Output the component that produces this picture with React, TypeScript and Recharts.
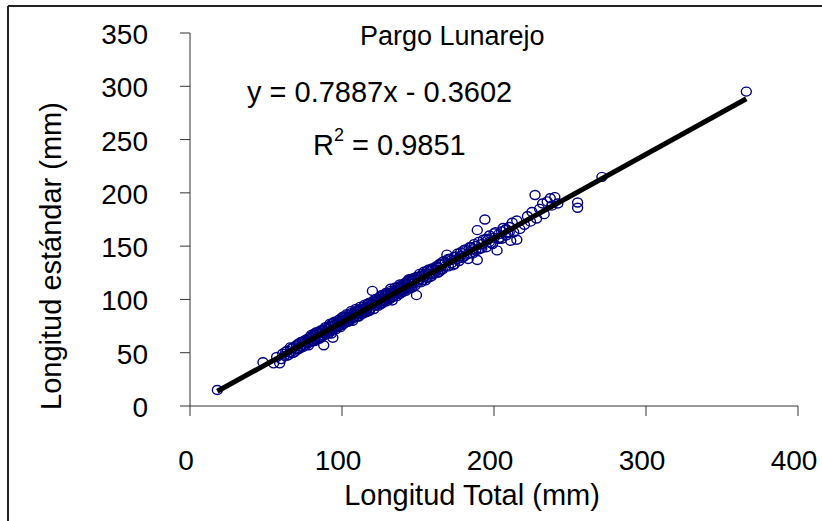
import { Scatter, ScatterChart, XAxis, YAxis } from 'recharts';

// Longitud total (mm), longitud estándar (mm).
const samples: [number, number][] = [
  [18, 15], [48, 41], [55, 40], [57, 46], [59, 40], [60, 44], [62, 47], [63, 51],
  [64, 52], [65, 48], [66, 50], [67, 54], [68, 55], [69, 51], [70, 53], [71, 58],
  [72, 59], [72, 54], [73, 56], [74, 60], [74, 55], [75, 57], [76, 62], [76, 57],
  [77, 59], [78, 63], [78, 59], [79, 60], [79, 65], [80, 64], [80, 61], [81, 66],
  [81, 61], [82, 63], [82, 68], [83, 67], [84, 64], [84, 69], [85, 68], [85, 65],
  [86, 69], [86, 64], [87, 66], [87, 71], [88, 57], [88, 71], [89, 68], [89, 73],
  [90, 72], [90, 69], [91, 73], [91, 68], [92, 70], [92, 75], [93, 75], [93, 70],
  [94, 64], [94, 72], [94, 78], [95, 76], [95, 73], [96, 77], [96, 72], [97, 74],
  [97, 79], [98, 79], [98, 75], [99, 78], [99, 74], [100, 80], [100, 76], [100, 83],
  [101, 81], [101, 77], [102, 78], [102, 84], [103, 83], [103, 79], [104, 82], [104, 79],
  [105, 85], [105, 80], [106, 84], [106, 87], [107, 82], [107, 80], [108, 87], [108, 83],
  [109, 86], [109, 89], [110, 88], [110, 84], [111, 89], [111, 84], [112, 86], [112, 91],
  [113, 90], [113, 86], [114, 87], [114, 93], [115, 92], [115, 88], [116, 90], [116, 88],
  [117, 93], [117, 96], [118, 90], [118, 89], [119, 95], [119, 97], [120, 108], [120, 96],
  [121, 94], [121, 91], [122, 98], [122, 100], [123, 95], [124, 99], [124, 94], [125, 96],
  [125, 102], [126, 101], [126, 96], [127, 98], [127, 104], [128, 103], [128, 99], [129, 101],
  [129, 98], [130, 104], [130, 106], [131, 100], [131, 101], [132, 106], [132, 110], [133, 102],
  [133, 99], [134, 107], [134, 103], [135, 104], [135, 111], [136, 109], [136, 103], [137, 106],
  [137, 112], [138, 111], [138, 105], [139, 108], [139, 113], [140, 112], [140, 107], [141, 109],
  [141, 115], [142, 114], [142, 108], [143, 111], [143, 117], [144, 116], [144, 110], [145, 112],
  [145, 119], [146, 118], [146, 111], [147, 115], [147, 120], [148, 119], [148, 113], [149, 104],
  [150, 121], [150, 116], [151, 124], [152, 122], [152, 116], [153, 118], [154, 126], [155, 124],
  [155, 118], [156, 120], [157, 128], [158, 127], [158, 121], [159, 122], [160, 129], [160, 124],
  [161, 125], [162, 131], [163, 130], [163, 125], [164, 126], [165, 133], [165, 128], [166, 128],
  [167, 136], [168, 135], [169, 142], [170, 131], [171, 138], [172, 137], [173, 132], [174, 133],
  [175, 140], [176, 143], [177, 136], [178, 144], [179, 139], [180, 140], [181, 147], [182, 146],
  [183, 138], [184, 143], [185, 149], [186, 143], [187, 152], [188, 150], [189, 137], [189, 165],
  [190, 147], [191, 148], [192, 152], [193, 156], [194, 175], [195, 149], [196, 156], [197, 160],
  [198, 153], [199, 152], [200, 158], [201, 163], [202, 146], [203, 161], [204, 158], [205, 157],
  [206, 167], [207, 165], [208, 160], [209, 162], [210, 168], [211, 155], [212, 172], [213, 163],
  [215, 156], [215, 174], [217, 166], [220, 170], [222, 178], [224, 173], [225, 182], [227, 198],
  [228, 176], [230, 185], [232, 190], [233, 180], [235, 192], [237, 195], [238, 188], [240, 196],
  [242, 190], [255, 191], [255, 186], [271, 215], [366, 295],
  // second pass through the dense band
  [61, 49], [64, 47], [66, 55], [68, 50], [70, 57], [71, 53], [73, 60], [75, 61],
  [77, 63], [78, 57], [80, 67], [82, 61], [83, 69], [85, 63], [86, 71], [88, 66],
  [89, 74], [91, 70], [92, 77], [93, 68], [95, 79], [96, 74], [98, 81], [99, 76],
  [101, 84], [102, 80], [103, 86], [105, 82], [106, 89], [107, 85], [109, 91], [110, 86],
  [112, 93], [113, 88], [115, 95], [116, 92], [118, 97], [119, 92], [121, 99], [122, 94],
  [123, 101], [125, 98], [126, 104], [128, 101], [129, 106], [131, 103], [132, 108], [134, 105],
  [135, 109], [137, 108], [138, 114], [140, 110], [141, 112], [143, 114], [144, 119], [146, 116],
  [147, 118], [149, 121], [151, 119], [153, 124], [154, 121], [156, 127], [157, 124], [159, 129],
  [161, 128], [162, 127], [164, 133], [166, 135], [168, 131], [170, 138], [172, 134], [174, 140],
  [176, 138], [178, 141], [180, 146], [182, 142], [184, 149], [186, 147], [188, 146], [190, 154],
  [192, 148], [195, 157], [197, 154], [200, 162], [203, 157], [205, 164], [208, 166], [210, 163],
];

// Regression endpoints: y = 0.7887x - 0.3602 at the smallest and largest fish.
const fitX = [18, 366];
const fitY = [13.8, 288.3];

const xTicks = [0, 100, 200, 300, 400];
const yTicks = [0, 50, 100, 150, 200, 250, 300, 350];

const FONT = '"Liberation Sans", Arial, sans-serif';
const NAVY = '#000080';
const AXIS = '#333333';

const points = samples.map(([x, y]) => ({ x, y }));
const fitLine = fitX.map((x, i) => ({ x, y: fitY[i] }));

function Ring(props: any) {
  const { cx, cy } = props;
  if (cx == null || cy == null) return <g />;
  return <ellipse cx={cx} cy={cy} rx={5} ry={4.5} fill="none" stroke={NAVY} strokeWidth={1.4} />;
}

function XTick(props: any) {
  const { x, y, payload } = props;
  return (
    <text x={x - 4} y={y + 52} textAnchor="middle" fontFamily={FONT} fontSize={28} fill="#000">
      {payload.value}
    </text>
  );
}

function YTick(props: any) {
  const { x, y, payload } = props;
  return (
    <text x={x - 30} y={y + 11} textAnchor="end" fontFamily={FONT} fontSize={28} fill="#000">
      {payload.value}
    </text>
  );
}

export default function App() {
  return (
    <div style={{ position: 'absolute', left: 0, top: 0, width: 822, height: 521, overflow: 'hidden', background: '#fff' }}>
      <ScatterChart width={822} height={521} margin={{ top: 33, right: 24, bottom: 85, left: 0 }}>
        <XAxis
          type="number"
          dataKey="x"
          domain={[0, 400]}
          ticks={xTicks}
          height={30}
          tickSize={10}
          tick={<XTick />}
          axisLine={{ stroke: AXIS }}
          tickLine={{ stroke: AXIS }}
        />
        <YAxis
          type="number"
          dataKey="y"
          domain={[0, 350]}
          ticks={yTicks}
          width={190}
          tickSize={10}
          tick={<YTick />}
          axisLine={{ stroke: AXIS }}
          tickLine={{ stroke: AXIS }}
        />
        <Scatter data={points} shape={Ring} isAnimationActive={false} />
        <Scatter
          data={fitLine}
          line={{ stroke: '#000', strokeWidth: 5 }}
          shape={() => <g />}
          isAnimationActive={false}
        />
      </ScatterChart>
      <svg
        width={822}
        height={521}
        style={{ position: 'absolute', left: 0, top: 0, pointerEvents: 'none' }}
        fontFamily={FONT}
      >
        <path d="M8 6 H822 M8 6 V521" stroke="#222" strokeWidth={2} fill="none" />
        <text x={360} y={45} fontSize={27} fill="#000">Pargo Lunarejo</text>
        <text x={247} y={102} fontSize={29} fill="#000">y = 0.7887x - 0.3602</text>
        <text x={313} y={155} fontSize={29} fill="#000">
          R<tspan dy={-14} fontSize={18}>2</tspan>
          <tspan dy={14}> = 0.9851</tspan>
        </text>
        <text x={472} y={505} fontSize={29} textAnchor="middle" fill="#000">Longitud Total (mm)</text>
        <text
          x={61}
          y={256}
          fontSize={29}
          textAnchor="middle"
          fill="#000"
          transform="rotate(-90 61 256)"
        >
          Longitud estándar (mm)
        </text>
      </svg>
    </div>
  );
}
